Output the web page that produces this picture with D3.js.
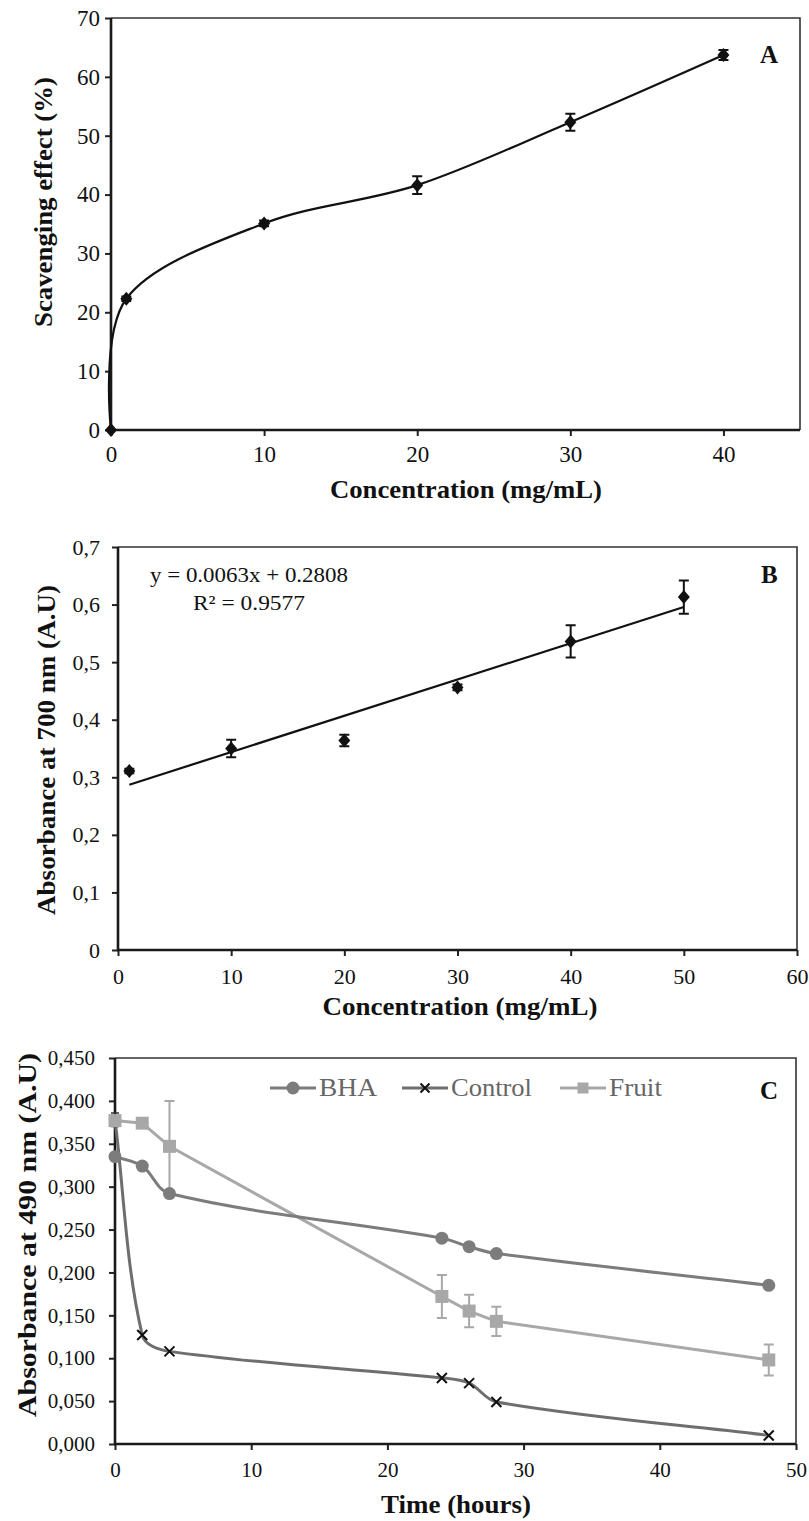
<!DOCTYPE html>
<html>
<head>
<meta charset="utf-8">
<script src="https://cdn.jsdelivr.net/npm/d3@7/dist/d3.min.js"></script>
<style>
  html, body { margin: 0; padding: 0; background: #fff; }
  svg { display: block; }
</style>
</head>
<body>
<svg id="chart" width="809" height="1521"></svg>
<script>
// ---------------- DATA ----------------
// Panel A: scavenging effect
const concA = [0, 1, 10, 20, 30, 40];
const scavA = [0, 22.3, 35.1, 41.6, 52.3, 63.7];
const scavErrA = [0, 0.4, 0.5, 1.5, 1.45, 0.85];
const xTicksA = [0, 10, 20, 30, 40];
const yTicksA = [0, 10, 20, 30, 40, 50, 60, 70];

// Panel B: reducing power
const concB = [1, 10, 20, 30, 40, 50];
const absB = [0.311, 0.350, 0.364, 0.456, 0.536, 0.613];
const absErrB = [0.004, 0.015, 0.010, 0.005, 0.028, 0.029];
const trendSlopeB = 0.0063;
const trendInterceptB = 0.2808;
const trendR2B = 0.9577;
const xTicksB = [0, 10, 20, 30, 40, 50, 60];
const yTicksB = [0, 0.1, 0.2, 0.3, 0.4, 0.5, 0.6, 0.7];

// Panel C: absorbance over time
const seriesNamesC = ["BHA", "Control", "Fruit"];
const timeC = [0, 2, 4, 24, 26, 28, 48];
const bhaC = [0.335, 0.324, 0.292, 0.240, 0.230, 0.222, 0.185];
const bhaErrC = [0.003, 0.003, 0.004, 0.002, 0.002, 0.002, 0.002];
const controlC = [0.378, 0.127, 0.108, 0.077, 0.071, 0.049, 0.010];
const controlErrC = [0.008, 0, 0, 0, 0, 0, 0];
const fruitC = [0.377, 0.374, 0.347, 0.172, 0.155, 0.143, 0.098];
const fruitErrC = [0.004, 0.003, 0.053, 0.025, 0.019, 0.017, 0.018];
const xTicksC = [0, 10, 20, 30, 40, 50];
const yTicksC = [0, 0.05, 0.10, 0.15, 0.20, 0.25, 0.30, 0.35, 0.40, 0.45];

// ---------------- HELPERS ----------------
const svg = d3.select("#chart");
const SERIF = "'Liberation Serif', 'Times New Roman', serif";
const diamondType = {
  draw(ctx) { const w = 6, h = 7; ctx.moveTo(0, -h); ctx.lineTo(w, 0); ctx.lineTo(0, h); ctx.lineTo(-w, 0); ctx.closePath(); }
};
const commaFmt = (p) => (d) => d === 0 && p === 1 ? "0" : d3.format("." + p + "f")(d).replace(".", ",");

// Spreadsheet-style smoothed line: tangent direction from neighbours, handle length from segment length
function curveSmoothSheet(context) {
  let pts = [];
  const unit = (a, b) => { const dx = b[0] - a[0], dy = b[1] - a[1], l = Math.hypot(dx, dy) || 1; return [dx / l, dy / l]; };
  return {
    areaStart() {}, areaEnd() {},
    lineStart() { pts = []; },
    point(x, y) { pts.push([+x, +y]); },
    lineEnd() {
      const n = pts.length;
      if (!n) return;
      context.moveTo(pts[0][0], pts[0][1]);
      for (let i = 0; i < n - 1; i++) {
        const p0 = pts[Math.max(i - 1, 0)], p1 = pts[i], p2 = pts[i + 1], p3 = pts[Math.min(i + 2, n - 1)];
        const L = Math.hypot(p2[0] - p1[0], p2[1] - p1[1]) / 3;
        const t1 = unit(p0, p2), t2 = unit(p1, p3);
        context.bezierCurveTo(p1[0] + t1[0] * L, p1[1] + t1[1] * L, p2[0] - t2[0] * L, p2[1] - t2[1] * L, p2[0], p2[1]);
      }
    }
  };
}

function frame(cfg) {
  const x = d3.scaleLinear().domain(cfg.xDomain).range([cfg.left, cfg.right]);
  const y = d3.scaleLinear().domain(cfg.yDomain).range([cfg.bottom, cfg.top]);
  const g = svg.append("g");
  g.append("path")
    .attr("d", `M${cfg.left},${cfg.top}H${cfg.right}V${cfg.bottom}`)
    .attr("fill", "none").attr("stroke", "#333").attr("stroke-width", 1.6);
  const ay = d3.axisLeft(y).tickValues(cfg.yTicks).tickSize(6).tickPadding(cfg.yPad)
    .tickFormat(cfg.yFmt);
  const gy = g.append("g").attr("transform", `translate(${cfg.left},0)`).call(ay);
  const ax = d3.axisBottom(x).tickValues(cfg.xTicks).tickSize(6).tickPadding(cfg.xPad)
    .tickFormat(d3.format("d"));
  const gx = g.append("g").attr("transform", `translate(0,${cfg.bottom})`).call(ax);
  [gx, gy].forEach(a => {
    a.select(".domain").remove();
    a.selectAll(".tick line").attr("stroke", "#222").attr("stroke-width", 2);
    a.selectAll(".tick text").attr("fill", "#111")
      .style("font-family", SERIF).style("font-size", cfg.tickFont + "px");
  });
  g.append("path")
    .attr("d", `M${cfg.left},${cfg.top}V${cfg.bottom}H${cfg.right}`)
    .attr("fill", "none").attr("stroke", "#1a1a1a").attr("stroke-width", 2.6);
  g.append("text").text(cfg.xTitle)
    .attr("x", cfg.xTitleX).attr("y", cfg.xTitleY).attr("text-anchor", "middle")
    .attr("textLength", cfg.xTitleLen).attr("lengthAdjust", "spacingAndGlyphs")
    .style("font-family", SERIF).style("font-weight", "bold").style("font-size", cfg.titleFont + "px").attr("fill", "#111");
  g.append("text").text(cfg.yTitle)
    .attr("transform", `translate(${cfg.yTitleX},${cfg.yTitleY}) rotate(-90)`).attr("text-anchor", "middle")
    .attr("textLength", cfg.yTitleLen).attr("lengthAdjust", "spacingAndGlyphs")
    .style("font-family", SERIF).style("font-weight", "bold").style("font-size", cfg.titleFont + "px").attr("fill", "#111");
  g.append("text").text(cfg.letter)
    .attr("x", cfg.letterX).attr("y", cfg.letterY)
    .style("font-family", SERIF).style("font-weight", "bold").style("font-size", "25px").attr("fill", "#111");
  return { x, y, g };
}

function errorBars(g, x, y, xs, ys, es, color, cap, width) {
  const eb = g.append("g").attr("stroke", color).attr("stroke-width", width).attr("fill", "none");
  xs.forEach((xv, i) => {
    if (!es[i]) return;
    const cx = x(xv), y1 = y(ys[i] + es[i]), y2 = y(ys[i] - es[i]);
    eb.append("path").attr("d", `M${cx},${y1}V${y2}M${cx - cap},${y1}H${cx + cap}M${cx - cap},${y2}H${cx + cap}`);
  });
}

// ---------------- PANEL A ----------------
(function () {
  const { x, y, g } = frame({
    left: 111, right: 800, top: 18, bottom: 430,
    xDomain: [0, 45], yDomain: [0, 70],
    xTicks: xTicksA, yTicks: yTicksA, yFmt: d3.format("d"),
    yPad: 5, xPad: 10, tickFont: 23, titleFont: 26,
    xTitle: "Concentration  (mg/mL)", xTitleX: 466, xTitleY: 498, xTitleLen: 272,
    yTitle: "Scavenging effect (%)", yTitleX: 52, yTitleY: 202, yTitleLen: 250,
    letter: "A", letterX: 760, letterY: 63
  });
  const pts = concA.map((c, i) => [c, scavA[i]]);
  g.append("path").datum(pts)
    .attr("d", d3.line().x(d => x(d[0])).y(d => y(d[1])).curve(d3.curveCardinal.tension(0)))
    .attr("fill", "none").attr("stroke", "#111").attr("stroke-width", 2.2);
  errorBars(g, x, y, concA, scavA, scavErrA, "#111", 5, 2);
  g.selectAll(".mA").data(pts).join("path")
    .attr("transform", d => `translate(${x(d[0])},${y(d[1])})`)
    .attr("d", d3.symbol(diamondType)()).attr("fill", "#111");
})();

// ---------------- PANEL B ----------------
(function () {
  const { x, y, g } = frame({
    left: 118, right: 797, top: 547, bottom: 950,
    xDomain: [0, 60], yDomain: [0, 0.7],
    xTicks: xTicksB, yTicks: yTicksB, yFmt: commaFmt(1),
    yPad: 12, xPad: 12, tickFont: 22, titleFont: 26,
    xTitle: "Concentration  (mg/mL)", xTitleX: 460, xTitleY: 1015, xTitleLen: 275,
    yTitle: "Absorbance at 700 nm (A.U)", yTitleX: 55, yTitleY: 750, yTitleLen: 330,
    letter: "B", letterX: 761, letterY: 583
  });
  const xe = d3.extent(concB);
  g.append("line")
    .attr("x1", x(xe[0])).attr("y1", y(trendSlopeB * xe[0] + trendInterceptB))
    .attr("x2", x(xe[1])).attr("y2", y(trendSlopeB * xe[1] + trendInterceptB))
    .attr("stroke", "#111").attr("stroke-width", 2.2);
  errorBars(g, x, y, concB, absB, absErrB, "#111", 5, 2);
  g.selectAll(".mB").data(concB.map((c, i) => [c, absB[i]])).join("path")
    .attr("transform", d => `translate(${x(d[0])},${y(d[1])})`)
    .attr("d", d3.symbol(diamondType)()).attr("fill", "#111");
  g.append("text").text(`y = ${trendSlopeB}x + ${trendInterceptB}`)
    .attr("x", 150).attr("y", 582).attr("textLength", 198).attr("lengthAdjust", "spacingAndGlyphs")
    .style("font-family", SERIF).style("font-size", "21px").attr("fill", "#111");
  g.append("text").text(`R² = ${trendR2B}`)
    .attr("x", 193).attr("y", 610).attr("textLength", 112).attr("lengthAdjust", "spacingAndGlyphs")
    .style("font-family", SERIF).style("font-size", "21px").attr("fill", "#111");
})();

// ---------------- PANEL C ----------------
(function () {
  const { x, y, g } = frame({
    left: 115, right: 796, top: 1058, bottom: 1444,
    xDomain: [0, 50], yDomain: [0, 0.45],
    xTicks: xTicksC, yTicks: yTicksC, yFmt: commaFmt(3),
    yPad: 14, xPad: 12, tickFont: 21, titleFont: 26,
    xTitle: "Time (hours)", xTitleX: 456, xTitleY: 1513, xTitleLen: 150,
    yTitle: "Absorbance at 490 nm (A.U)", yTitleX: 36, yTitleY: 1235, yTitleLen: 364,
    letter: "C", letterX: 760, letterY: 1099
  });
  const colors = { BHA: "#7c7c7c", Control: "#6e6e6e", Fruit: "#a8a8a8" };
  const smooth = d3.line().x(d => x(d[0])).y(d => y(d[1])).curve(curveSmoothSheet);
  const straight = d3.line().x(d => x(d[0])).y(d => y(d[1]));
  const bhaPts = timeC.map((t, i) => [t, bhaC[i]]);
  const ctlPts = timeC.map((t, i) => [t, controlC[i]]);
  const frtPts = timeC.map((t, i) => [t, fruitC[i]]);

  g.append("path").datum(frtPts).attr("d", straight).attr("fill", "none").attr("stroke", colors.Fruit).attr("stroke-width", 3);
  g.append("path").datum(bhaPts).attr("d", smooth).attr("fill", "none").attr("stroke", colors.BHA).attr("stroke-width", 3);
  g.append("path").datum(ctlPts).attr("d", smooth).attr("fill", "none").attr("stroke", colors.Control).attr("stroke-width", 3);

  errorBars(g, x, y, timeC, fruitC, fruitErrC, colors.Fruit, 5, 2);
  errorBars(g, x, y, timeC, bhaC, bhaErrC, colors.BHA, 4, 1.5);
  errorBars(g, x, y, timeC, controlC, controlErrC, "#333", 4, 1.5);

  g.selectAll(".mFr").data(frtPts).join("rect")
    .attr("x", d => x(d[0]) - 6.5).attr("y", d => y(d[1]) - 6.5)
    .attr("width", 13).attr("height", 13).attr("fill", colors.Fruit);
  g.selectAll(".mBh").data(bhaPts).join("circle")
    .attr("cx", d => x(d[0])).attr("cy", d => y(d[1])).attr("r", 6.5).attr("fill", colors.BHA);
  const xMark = (cx, cy, s) => `M${cx - s},${cy - s}L${cx + s},${cy + s}M${cx - s},${cy + s}L${cx + s},${cy - s}`;
  g.selectAll(".mCt").data(ctlPts.slice(1)).join("path")
    .attr("d", d => xMark(x(d[0]), y(d[1]), 5)).attr("stroke", "#111").attr("stroke-width", 2).attr("fill", "none");

  const legendX = [270, 402, 560];
  const legendTextLen = [58, 81, 53];
  const ly = 1088;
  seriesNamesC.forEach((name, i) => {
    const lx = legendX[i];
    const lg = g.append("g");
    lg.append("line").attr("x1", lx).attr("x2", lx + 46).attr("y1", ly).attr("y2", ly)
      .attr("stroke", colors[name]).attr("stroke-width", 3);
    const mx = lx + 23;
    if (name === "BHA") lg.append("circle").attr("cx", mx).attr("cy", ly).attr("r", 6.5).attr("fill", colors.BHA);
    if (name === "Control") lg.append("path").attr("d", xMark(mx, ly, 4.5)).attr("stroke", "#111").attr("stroke-width", 2);
    if (name === "Fruit") lg.append("rect").attr("x", mx - 5.5).attr("y", ly - 5.5).attr("width", 11).attr("height", 11).attr("fill", colors.Fruit);
    lg.append("text").text(name).attr("x", lx + 49).attr("y", ly + 8)
      .attr("textLength", legendTextLen[i]).attr("lengthAdjust", "spacingAndGlyphs")
      .style("font-family", SERIF).style("font-size", "25px").attr("fill", "#666");
  });
})();
</script>
</body>
</html>
